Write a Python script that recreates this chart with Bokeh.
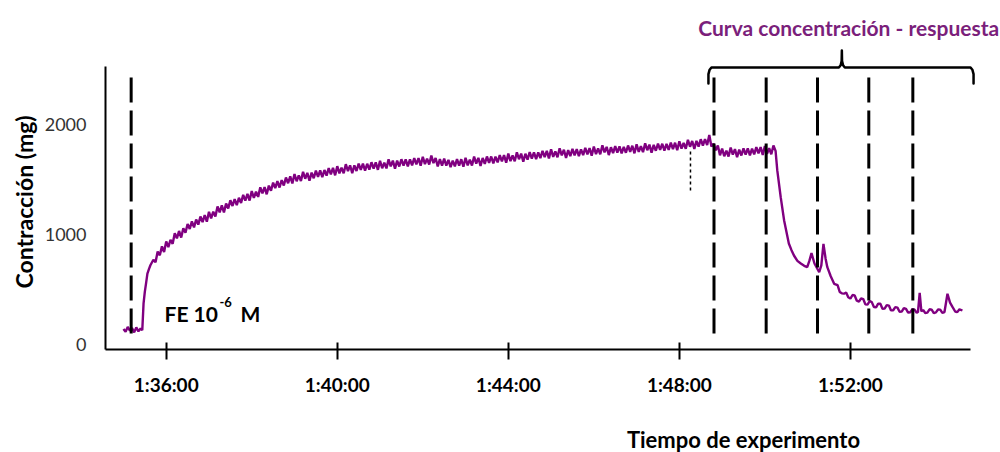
from bokeh.plotting import figure
from bokeh.models import Range1d, FixedTicker, Label, Title
from bokeh.layouts import column
from bokeh.embed import file_html
from bokeh.resources import INLINE

# ---------------- data ----------------
# time in minutes (96 = 1:36:00), contraction in mg
base_t = [95.00, 95.05, 95.10, 95.15, 95.20, 95.25, 95.30, 95.35, 95.40, 95.44,
          95.47, 95.50, 95.53, 95.56, 95.60, 95.63]
base_v = [140, 115, 160, 125, 150, 110, 155, 120, 145, 130,
          373, 480, 560, 645, 690, 720]

plateau_t = [
    95.70, 95.75, 95.80, 95.85, 95.90, 95.95, 96.00, 96.05, 96.10, 96.15,
    96.20, 96.25, 96.30, 96.35, 96.40, 96.45, 96.50, 96.55, 96.60, 96.65,
    96.70, 96.75, 96.80, 96.85, 96.90, 96.95, 97.00, 97.05, 97.10, 97.15,
    97.20, 97.25, 97.30, 97.35, 97.40, 97.45, 97.50, 97.55, 97.60, 97.65,
    97.70, 97.75, 97.80, 97.85, 97.90, 97.95, 98.00, 98.05, 98.10, 98.15,
    98.20, 98.25, 98.30, 98.35, 98.40, 98.45, 98.50, 98.55, 98.60, 98.65,
    98.70, 98.75, 98.80, 98.85, 98.90, 98.95, 99.00, 99.05, 99.10, 99.15,
    99.20, 99.25, 99.30, 99.35, 99.40, 99.45, 99.50, 99.55, 99.60, 99.65,
    99.70, 99.75, 99.80, 99.85, 99.90, 99.95, 100.00, 100.05, 100.10, 100.15,
    100.20, 100.25, 100.30, 100.35, 100.40, 100.45, 100.50, 100.55, 100.60, 100.65,
    100.70, 100.75, 100.80, 100.85, 100.90, 100.95, 101.00, 101.05, 101.10, 101.15,
    101.20, 101.25, 101.30, 101.35, 101.40, 101.45, 101.50, 101.55, 101.60, 101.65,
    101.70, 101.75, 101.80, 101.85, 101.90, 101.95, 102.00, 102.05, 102.10, 102.15,
    102.20, 102.25, 102.30, 102.35, 102.40, 102.45, 102.50, 102.55, 102.60, 102.65,
    102.70, 102.75, 102.80, 102.85, 102.90, 102.95, 103.00, 103.05, 103.10, 103.15,
    103.20, 103.25, 103.30, 103.35, 103.40, 103.45, 103.50, 103.55, 103.60, 103.65,
    103.70, 103.75, 103.80, 103.85, 103.90, 103.95, 104.00, 104.05, 104.10, 104.15,
    104.20, 104.25, 104.30, 104.35, 104.40, 104.45, 104.50, 104.55, 104.60, 104.65,
    104.70, 104.75, 104.80, 104.85, 104.90, 104.95, 105.00, 105.05, 105.10, 105.15,
    105.20, 105.25, 105.30, 105.35, 105.40, 105.45, 105.50, 105.55, 105.60, 105.65,
    105.70, 105.75, 105.80, 105.85, 105.90, 105.95, 106.00, 106.05, 106.10, 106.15,
    106.20, 106.25, 106.30, 106.35, 106.40, 106.45, 106.50, 106.55, 106.60, 106.65,
    106.70, 106.75, 106.80, 106.85, 106.90, 106.95, 107.00, 107.05, 107.10, 107.15,
    107.20, 107.25, 107.30, 107.35, 107.40, 107.45, 107.50, 107.55, 107.60, 107.65,
    107.70, 107.75, 107.80, 107.85, 107.90, 107.95, 108.00, 108.05, 108.10, 108.15,
    108.20, 108.25, 108.30, 108.35, 108.40, 108.45, 108.50, 108.55, 108.60, 108.65,
    108.70, 108.75, 108.80, 108.85, 108.90, 108.95, 109.00, 109.05, 109.10, 109.15,
    109.20, 109.25, 109.30, 109.35, 109.40, 109.45, 109.50, 109.55, 109.60, 109.65,
    109.70, 109.75, 109.80, 109.85, 109.90, 109.95, 110.00, 110.05, 110.10, 110.15,
    110.20]
plateau_v = [
    770, 748, 845, 811, 892, 840, 937, 885, 952, 915,
    1012, 965, 1032, 972, 1056, 1016, 1095, 1050, 1119, 1065,
    1136, 1090, 1164, 1113, 1177, 1117, 1206, 1147, 1207, 1164,
    1255, 1202, 1264, 1201, 1282, 1237, 1311, 1259, 1322, 1266,
    1334, 1287, 1360, 1308, 1370, 1308, 1395, 1332, 1389, 1342,
    1429, 1373, 1431, 1365, 1444, 1398, 1472, 1421, 1485, 1427,
    1494, 1446, 1518, 1466, 1528, 1464, 1550, 1484, 1537, 1486,
    1569, 1507, 1560, 1489, 1562, 1511, 1580, 1524, 1583, 1522,
    1586, 1535, 1603, 1547, 1605, 1538, 1621, 1555, 1608, 1556,
    1639, 1577, 1629, 1557, 1629, 1577, 1645, 1587, 1644, 1581,
    1643, 1590, 1657, 1599, 1656, 1588, 1669, 1602, 1654, 1601,
    1683, 1620, 1672, 1599, 1671, 1618, 1684, 1626, 1683, 1620,
    1682, 1629, 1695, 1637, 1694, 1626, 1707, 1639, 1690, 1636,
    1717, 1649, 1696, 1618, 1685, 1627, 1689, 1626, 1678, 1613,
    1672, 1619, 1685, 1627, 1684, 1616, 1697, 1629, 1680, 1627,
    1708, 1645, 1696, 1623, 1695, 1642, 1709, 1652, 1709, 1646,
    1708, 1655, 1722, 1664, 1721, 1653, 1735, 1667, 1718, 1665,
    1747, 1684, 1735, 1662, 1734, 1681, 1748, 1690, 1747, 1685,
    1747, 1694, 1761, 1703, 1760, 1692, 1774, 1705, 1756, 1702,
    1783, 1719, 1770, 1696, 1767, 1713, 1779, 1720, 1776, 1713,
    1774, 1721, 1787, 1729, 1785, 1717, 1799, 1731, 1782, 1729,
    1810, 1746, 1796, 1722, 1793, 1739, 1804, 1745, 1801, 1737,
    1797, 1743, 1809, 1751, 1807, 1738, 1819, 1751, 1802, 1748,
    1829, 1766, 1817, 1744, 1815, 1761, 1827, 1769, 1825, 1762,
    1823, 1769, 1835, 1777, 1834, 1766, 1848, 1780, 1832, 1779,
    1861, 1798, 1850, 1778, 1851, 1799, 1866, 1809, 1866, 1813,
    1905, 1800, 1825, 1765, 1810, 1720, 1780, 1711, 1762, 1709,
    1790, 1726, 1776, 1702, 1772, 1718, 1783, 1725, 1782, 1719,
    1781, 1728, 1795, 1737, 1794, 1724, 1804, 1734, 1784, 1729,
    1809]

fall_t = [110.25, 110.29, 110.37, 110.45, 110.56, 110.62, 110.68, 110.76, 110.84,
          110.92, 110.99, 111.04, 111.09, 111.16, 111.27, 111.32, 111.37, 111.42,
          111.46, 111.54, 111.62]
fall_v = [1760, 1582, 1339, 1127, 918, 860, 809, 760, 736,
          715, 703, 760, 830, 736, 657, 720, 915, 780,
          703, 620, 552]

tail_t = [111.70, 111.75, 111.80, 111.85, 111.90, 111.95, 112.00, 112.05, 112.10, 112.15,
          112.20, 112.25, 112.30, 112.35, 112.40, 112.45, 112.50, 112.55, 112.60, 112.65,
          112.70, 112.75, 112.80, 112.85, 112.90, 112.95, 113.00, 113.05, 113.10, 113.15,
          113.20, 113.25, 113.30, 113.35, 113.40, 113.45, 113.50, 113.55, 113.58, 113.62,
          113.66, 113.70, 113.75, 113.80, 113.85, 113.90, 113.95, 114.00, 114.05, 114.10,
          114.15, 114.20, 114.27, 114.33, 114.39, 114.45, 114.50, 114.55, 114.62]
tail_v = [540, 478, 465, 462, 473, 430, 417, 450, 446, 398,
          390, 420, 413, 365, 362, 395, 385, 340, 338, 372,
          370, 325, 327, 358, 354, 310, 311, 340, 335, 298,
          299, 330, 323, 290, 293, 322, 317, 288, 295, 470,
          300, 315, 286, 290, 320, 316, 285, 292, 318, 317,
          288, 295, 461, 380, 339, 300, 294, 320, 309]

time_min = base_t + plateau_t + fall_t + tail_t
contraction_mg = base_v + plateau_v + fall_v + tail_v

event_times = [95.18, 108.81, 110.03, 111.23, 112.43, 113.46]   # dashed markers
event_low, event_high = 100, 2445
marker_time = 108.26                                            # small dotted mark
marker_low, marker_high = 1400, 1780

x_ticks = [96, 100, 104, 108, 112]
x_tick_labels = ["1:36:00", "1:40:00", "1:44:00", "1:48:00", "1:52:00"]
y_ticks = [0, 1000, 2000]

x_axis_span = (94.58, 114.82)
y_axis_span = (-45.5, 2527)

bracket_left, bracket_mid, bracket_right = 108.68, 111.80, 114.88
bracket_low, bracket_bar, bracket_tip = 2373, 2518, 2673

TRACE = "#800080"
FONT = "Lato"

# ---------------- main figure ----------------
xr = Range1d(94.58, 115.51)
p = figure(width=1000, height=420, output_backend="svg", toolbar_location=None,
           x_range=xr, y_range=Range1d(-45.5, 3018),
           min_border_left=105, min_border_right=0, min_border_top=12,
           min_border_bottom=71)
p.outline_line_color = None
p.grid.visible = False
p.background_fill_color = "white"
p.border_fill_color = "white"

# trace
p.line(time_min, contraction_mg, line_color=TRACE, line_width=2.4)

# dashed event lines
p.segment(x0=event_times, y0=[event_low] * len(event_times),
          x1=event_times, y1=[event_high] * len(event_times),
          line_color="black", line_width=3, line_dash="25 8")
p.segment(x0=[marker_time], y0=[marker_low], x1=[marker_time], y1=[marker_high],
          line_color="black", line_width=1.5, line_dash="3 3")

# bracket above the concentration-response section
dx, dy = 0.07, 20
bx = [bracket_left, bracket_left, bracket_left + dx * 0.4, bracket_left + dx,
      bracket_mid - dx, bracket_mid - dx * 0.4, bracket_mid - 0.005, bracket_mid,
      bracket_mid + 0.005, bracket_mid + dx * 0.4, bracket_mid + dx,
      bracket_right - dx, bracket_right - dx * 0.4, bracket_right, bracket_right]
by = [bracket_low, bracket_bar - 3 * dy, bracket_bar - dy, bracket_bar,
      bracket_bar, bracket_bar + dy, bracket_bar + 3 * dy, bracket_tip,
      bracket_bar + 3 * dy, bracket_bar + dy, bracket_bar,
      bracket_bar, bracket_bar - dy, bracket_bar - 3 * dy, bracket_low]
p.line(bx, by, line_color="black", line_width=2.5, line_join="round", line_cap="round")

# axes
xa = p.xaxis[0]
xa.ticker = FixedTicker(ticks=x_ticks)
xa.bounds = x_axis_span
xa.major_label_overrides = {t: l for t, l in zip(x_ticks, x_tick_labels)}
xa.minor_tick_line_color = None
xa.major_tick_in = 7
xa.major_tick_out = 10
xa.major_tick_line_width = 2
xa.axis_line_width = 2
xa.axis_line_color = "black"
xa.major_tick_line_color = "black"
xa.major_label_text_font = FONT
xa.major_label_text_font_style = "bold"
xa.major_label_text_font_size = "19px"
xa.major_label_text_color = "black"
xa.major_label_standoff = 13

ya = p.yaxis[0]
ya.ticker = FixedTicker(ticks=y_ticks)
ya.bounds = y_axis_span
ya.minor_tick_line_color = None
ya.major_tick_line_color = None
ya.major_tick_in = 0
ya.major_tick_out = 0
ya.axis_line_width = 2
ya.axis_line_color = "black"
ya.major_label_text_font = FONT
ya.major_label_text_font_size = "18px"
ya.major_label_text_color = "#333333"
ya.major_label_standoff = 19

# y title, placed along the axis line as in the reference
p.add_layout(Title(text="Contracción (mg)", align="left", offset=61,
                   text_font=FONT, text_font_style="bold", text_font_size="23px",
                   text_color="black", standoff=8), "left")

# texts inside the plot
p.add_layout(Label(x=111.96, y=2882, text="Curva concentración - respuesta",
                   text_font=FONT, text_font_style="bold", text_font_size="21px",
                   text_color="#7b1f7b", text_align="center", text_baseline="middle"))
fe_x, fe_y = 95.96, 282
p.add_layout(Label(x=fe_x, y=fe_y, text="FE 10", text_font=FONT,
                   text_font_style="bold", text_font_size="21px", text_color="black",
                   text_align="left", text_baseline="middle"))
p.add_layout(Label(x=fe_x, y=fe_y, x_offset=55, y_offset=11, text="-6", text_font=FONT,
                   text_font_style="bold", text_font_size="13px", text_color="black",
                   text_align="left", text_baseline="middle"))
p.add_layout(Label(x=fe_x, y=fe_y, x_offset=76, text="M", text_font=FONT,
                   text_font_style="bold", text_font_size="21px", text_color="black",
                   text_align="left", text_baseline="middle"))

# ---------------- strip below for the x title (right of centre) ----------------
q = figure(width=1000, height=32, output_backend="svg", toolbar_location=None,
           x_range=xr, y_range=Range1d(0, 1),
           min_border_left=105, min_border_right=0, min_border_top=0,
           min_border_bottom=0)
q.axis.visible = False
q.grid.visible = False
q.outline_line_color = None
q.background_fill_color = "white"
q.border_fill_color = "white"
q.add_layout(Label(x=109.50, y=0.4, text="Tiempo de experimento",
                   text_font=FONT, text_font_style="bold", text_font_size="22px",
                   text_color="black", text_align="center", text_baseline="middle"))

layout = column(p, q, spacing=0)
open("out.html", "w").write(file_html(layout, INLINE))
